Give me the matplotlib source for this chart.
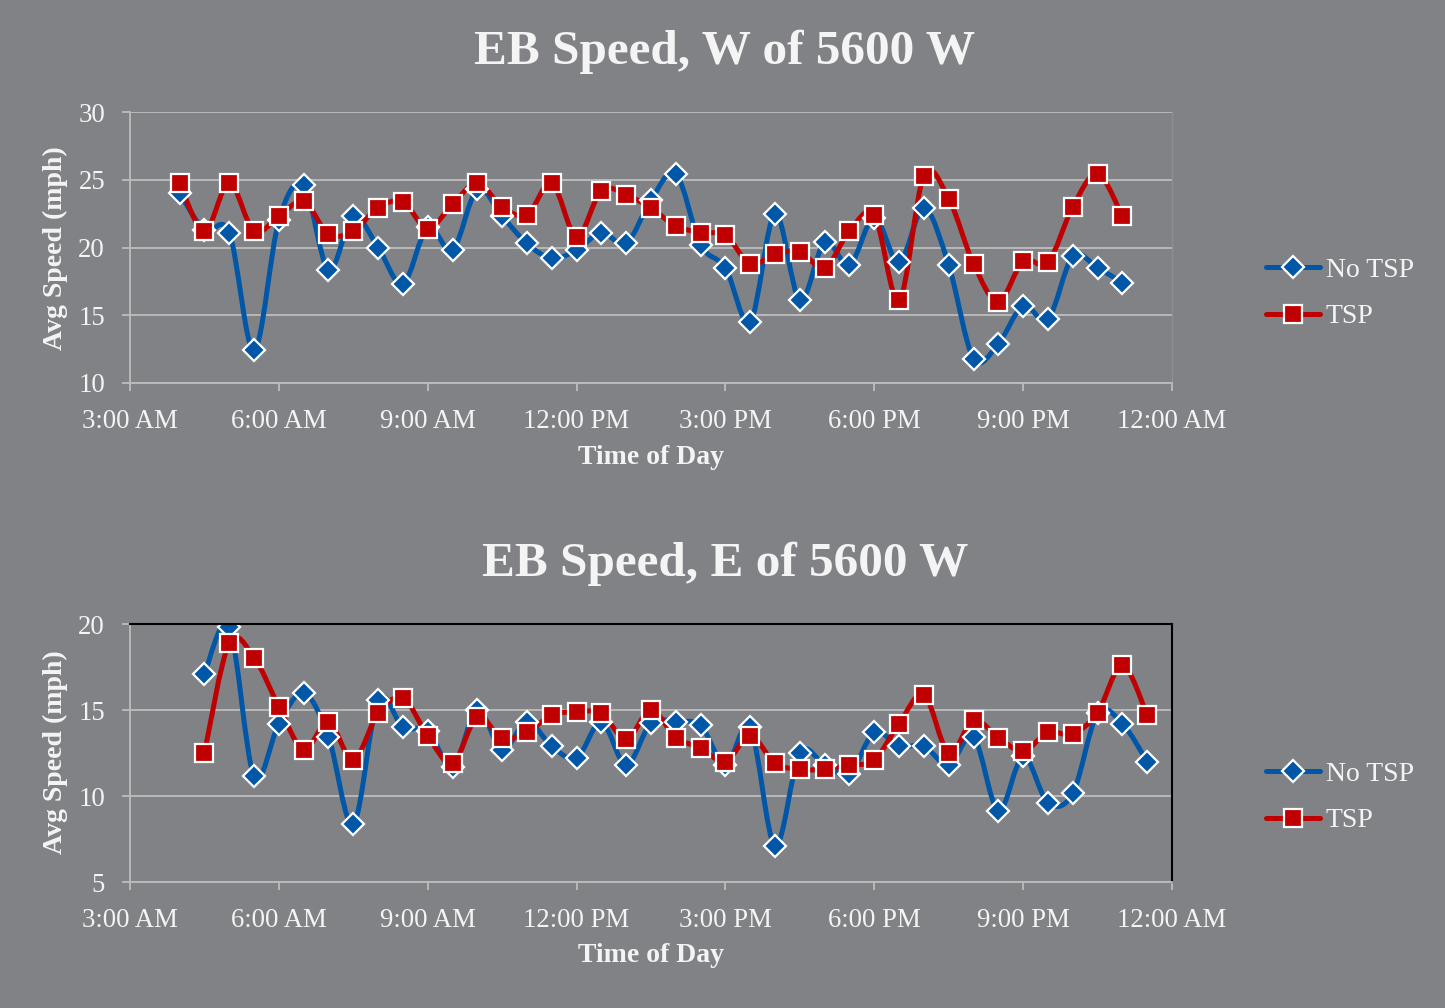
import numpy as np
import matplotlib
matplotlib.use("Agg")
import matplotlib.pyplot as plt
from matplotlib.path import Path
from matplotlib.patches import PathPatch
from matplotlib.lines import Line2D

# ---------------- data ----------------
tick_hours = [3, 6, 9, 12, 15, 18, 21, 24]
tick_labels = ["3:00 AM", "6:00 AM", "9:00 AM", "12:00 PM", "3:00 PM", "6:00 PM", "9:00 PM", "12:00 AM"]

top_hours = [4.0, 4.5, 5.0, 5.5, 6.0, 6.5, 7.0, 7.5, 8.0, 8.5, 9.0, 9.5, 10.0, 10.5,
             11.0, 11.5, 12.0, 12.5, 13.0, 13.5, 14.0, 14.5, 15.0, 15.5, 16.0, 16.5,
             17.0, 17.5, 18.0, 18.5, 19.0, 19.5, 20.0, 20.5, 21.0, 21.5, 22.0, 22.5, 23.0]
top_no_tsp = [24.0, 21.3, 21.1, 12.4, 22.0, 24.6, 18.35, 22.3, 20.0, 17.3, 21.5, 19.8, 24.3, 22.3,
              20.3, 19.2, 19.8, 21.1, 20.3, 23.5, 25.45, 20.2, 18.5, 14.5, 22.5, 16.1,
              20.4, 18.7, 22.2, 18.9, 22.9, 18.7, 11.8, 12.9, 15.7, 14.7, 19.35, 18.5, 17.4]
top_tsp = [24.75, 21.2, 24.75, 21.2, 22.3, 23.4, 21.0, 21.2, 22.95, 23.35, 21.4, 23.2, 24.75, 23.0,
           22.4, 24.75, 20.8, 24.2, 23.9, 22.9, 21.6, 21.1, 20.9, 18.8, 19.5, 19.7,
           18.5, 21.2, 22.4, 16.1, 25.3, 23.6, 18.8, 16.0, 19.0, 18.9, 23.0, 25.45, 22.3]

bot_hours = [4.5, 5.0, 5.5, 6.0, 6.5, 7.0, 7.5, 8.0, 8.5, 9.0, 9.5, 10.0, 10.5, 11.0,
             11.5, 12.0, 12.5, 13.0, 13.5, 14.0, 14.5, 15.0, 15.5, 16.0, 16.5, 17.0,
             17.5, 18.0, 18.5, 19.0, 19.5, 20.0, 20.5, 21.0, 21.5, 22.0, 22.5, 23.0, 23.5]
bot_no_tsp = [17.1, 19.85, 11.15, 14.2, 16.0, 13.45, 8.35, 15.6, 14.0, 13.8, 11.7, 15.0, 12.7, 14.3,
              12.9, 12.2, 14.3, 11.8, 14.25, 14.3, 14.1, 11.8, 14.0, 7.1, 12.5, 11.8,
              11.3, 13.7, 12.9, 12.9, 11.8, 13.45, 9.15, 12.3, 9.6, 10.15, 14.8, 14.2, 12.0]
bot_tsp = [12.5, 18.9, 18.05, 15.2, 12.7, 14.3, 12.1, 14.8, 15.7, 13.5, 11.9, 14.6, 13.35, 13.7,
           14.7, 14.9, 14.8, 13.3, 15.0, 13.4, 12.8, 12.0, 13.5, 11.9, 11.55, 11.55,
           11.8, 12.1, 14.2, 15.9, 12.5, 14.4, 13.4, 12.6, 13.7, 13.6, 14.85, 17.6, 14.7]

series_labels = ["No TSP", "TSP"]

# ---------------- style ----------------
BG = "#818286"
GRID = "#bdbdbd"
TXT = "#f4f4f4"
BLUE = "#0057a8"
RED = "#c00000"
SERIF = ["Liberation Serif", "DejaVu Serif"]
plt.rcParams["font.family"] = SERIF


def smooth_path(x, y):
    """Excel-like smoothed line: Catmull-Rom segments as cubic Beziers."""
    p = np.column_stack([x, y]).astype(float)
    n = len(p)
    verts = [p[0]]
    codes = [Path.MOVETO]
    for i in range(n - 1):
        p0 = p[i - 1] if i > 0 else p[i]
        p1 = p[i]
        p2 = p[i + 1]
        p3 = p[i + 2] if i + 2 < n else p[i + 1]
        c1 = p1 + (p2 - p0) / 6.0
        c2 = p2 - (p3 - p1) / 6.0
        verts += [c1, c2, p2]
        codes += [Path.CURVE4] * 3
    return Path(verts, codes)


fig = plt.figure(figsize=(14.45, 10.08), dpi=100, facecolor=BG)

ax_specs = [
    dict(rect=[130 / 1445, 1 - 383 / 1008, 1042 / 1445, 271 / 1008],
         x=top_hours, a=top_no_tsp, b=top_tsp, ylim=(10, 30), yt=[10, 15, 20, 25, 30],
         title="EB Speed, W of 5600 W", ty=52, xl=458, yl=248, leg=293.5, border=False),
    dict(rect=[130 / 1445, 1 - 882 / 1008, 1042 / 1445, 258 / 1008],
         x=bot_hours, a=bot_no_tsp, b=bot_tsp, ylim=(5, 20), yt=[5, 10, 15, 20],
         title="EB Speed, E of 5600 W", ty=564, xl=956, yl=752, leg=797.5, border=True),
]

for s in ax_specs:
    ax = fig.add_axes(s["rect"])
    ax.set_facecolor(BG)
    ax.set_xlim(3, 24)
    ax.set_ylim(*s["ylim"])
    ax.set_xticks(tick_hours)
    ax.set_xticklabels(tick_labels)
    ax.set_yticks(s["yt"])
    ax.grid(axis="y", color=GRID, lw=1.3)
    ax.set_axisbelow(True)
    for sp in ["left", "bottom"]:
        ax.spines[sp].set_color(GRID)
        ax.spines[sp].set_linewidth(1.3)
    if s["border"]:
        for sp in ["top", "right"]:
            ax.spines[sp].set_color("black")
            ax.spines[sp].set_linewidth(1.5)
    else:
        ax.spines["top"].set_visible(False)
        ax.spines["right"].set_color("#8e8f93")
        ax.spines["right"].set_linewidth(1.0)
    ax.tick_params(axis="both", direction="out", length=6, width=1.3, color=GRID,
                   labelcolor=TXT, labelsize=19.3)
    ax.tick_params(axis="y", pad=12)
    ax.tick_params(axis="x", pad=13)

    for vals, col, mk, ms in [(s["a"], BLUE, "D", 11), (s["b"], RED, "s", 13)]:
        patch = PathPatch(smooth_path(s["x"], vals), facecolor="none", edgecolor=col,
                          lw=3.6, capstyle="round", joinstyle="round", transform=ax.transData)
        ax.add_patch(patch)
        ax.plot(s["x"], vals, linestyle="none", marker=mk, markersize=ms,
                markerfacecolor=col, markeredgecolor="white", markeredgewidth=1.6)

    fig.text(725 / 1445, 1 - s["ty"] / 1008, s["title"], ha="center", va="center",
             fontsize=35.5, fontweight="bold", color=TXT)
    fig.text(651 / 1445, 1 - s["xl"] / 1008, "Time of Day", ha="center", va="center",
             fontsize=20, fontweight="bold", color=TXT)
    fig.text(55 / 1445, 1 - s["yl"] / 1008, "Avg Speed (mph)", ha="center", va="center",
             rotation=90, fontsize=20, fontweight="bold", color=TXT)

    handles = [
        Line2D([], [], color=BLUE, lw=3.6, solid_capstyle="round", marker="D", markersize=11,
               markerfacecolor=BLUE, markeredgecolor="white", markeredgewidth=1.6),
        Line2D([], [], color=RED, lw=3.6, solid_capstyle="round", marker="s", markersize=13,
               markerfacecolor=RED, markeredgecolor="white", markeredgewidth=1.6),
    ]
    leg = fig.legend(handles, series_labels, loc="center left",
                     bbox_to_anchor=(1266 / 1445, 1 - s["leg"] / 1008),
                     frameon=False, fontsize=20, handlelength=1.95, handletextpad=0.2,
                     labelspacing=0.75, borderpad=0, borderaxespad=0)
    for t in leg.get_texts():
        t.set_color(TXT)

fig.savefig("out.png", dpi=100, facecolor=BG)
